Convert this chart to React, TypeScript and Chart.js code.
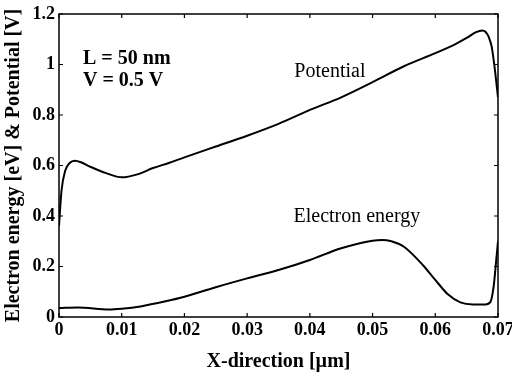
import React, { useEffect, useRef } from "react";
import { Chart, registerables } from "chart.js";

Chart.register(...registerables);

const potentialX = [0, 0.0004, 0.001, 0.0017, 0.0025, 0.0035, 0.005, 0.0075, 0.01, 0.0125, 0.015, 0.0175, 0.02, 0.025, 0.03, 0.035, 0.04, 0.045, 0.05, 0.055, 0.06, 0.063, 0.065, 0.0665, 0.0675, 0.068, 0.0685, 0.069, 0.0695, 0.07];
const potentialY = [0.36, 0.5, 0.58, 0.61, 0.619, 0.613, 0.595, 0.57, 0.553, 0.565, 0.59, 0.61, 0.632, 0.675, 0.718, 0.765, 0.82, 0.87, 0.93, 0.993, 1.045, 1.078, 1.105, 1.128, 1.135, 1.13, 1.11, 1.07, 0.98, 0.87];

const energyX = [0, 0.003, 0.008, 0.01, 0.013, 0.017, 0.02, 0.025, 0.03, 0.035, 0.04, 0.045, 0.05, 0.0515, 0.053, 0.055, 0.058, 0.06, 0.062, 0.064, 0.066, 0.068, 0.0688, 0.0693, 0.0697, 0.07];
const energyY = [0.036, 0.038, 0.03, 0.033, 0.042, 0.062, 0.08, 0.118, 0.153, 0.186, 0.226, 0.272, 0.302, 0.305, 0.3, 0.278, 0.206, 0.147, 0.09, 0.058, 0.05, 0.05, 0.06, 0.12, 0.22, 0.3];

const xTicks = [0, 0.01, 0.02, 0.03, 0.04, 0.05, 0.06, 0.07];
const yTicks = [0, 0.2, 0.4, 0.6, 0.8, 1, 1.2];

const annotations = [
  { text: "L = 50 nm", x: 0.00383, y: 1.022, bold: true, align: "left" },
  { text: "V = 0.5 V", x: 0.00383, y: 0.935, bold: true, align: "left" },
  { text: "Potential", x: 0.0432, y: 0.97, bold: false, align: "center" },
  { text: "Electron energy", x: 0.0475, y: 0.396, bold: false, align: "center" },
];

const SERIF = "'Liberation Serif', 'Times New Roman', serif";

const framePlugin = {
  id: "frameAndTicks",
  afterDraw(chart: any) {
    const { ctx, chartArea } = chart;
    const xs = chart.scales.x;
    const ys = chart.scales.y;
    ctx.save();
    ctx.strokeStyle = "#000";
    ctx.lineWidth = 1.5;
    ctx.strokeRect(chartArea.left, chartArea.top, chartArea.right - chartArea.left, chartArea.bottom - chartArea.top);
    const len = 4;
    ctx.lineWidth = 1.2;
    ctx.beginPath();
    xTicks.forEach((v) => {
      const px = xs.getPixelForValue(v);
      ctx.moveTo(px, chartArea.bottom);
      ctx.lineTo(px, chartArea.bottom - len);
      ctx.moveTo(px, chartArea.top);
      ctx.lineTo(px, chartArea.top + len);
    });
    yTicks.forEach((v) => {
      const py = ys.getPixelForValue(v);
      ctx.moveTo(chartArea.left, py);
      ctx.lineTo(chartArea.left + len, py);
      ctx.moveTo(chartArea.right, py);
      ctx.lineTo(chartArea.right - len, py);
    });
    ctx.stroke();
    ctx.fillStyle = "#000";
    ctx.textBaseline = "middle";
    annotations.forEach((a) => {
      ctx.font = `${a.bold ? "bold " : ""}20px ${SERIF}`;
      ctx.textAlign = a.align as CanvasTextAlign;
      ctx.fillText(a.text, xs.getPixelForValue(a.x), ys.getPixelForValue(a.y));
    });
    ctx.restore();
  },
};

const fmt = (v: any) => String(Number(Number(v).toFixed(3)));

export default function App() {
  const ref = useRef<HTMLCanvasElement | null>(null);
  useEffect(() => {
    if (!ref.current) return;
    const chart = new Chart(ref.current, {
      type: "line",
      data: {
        datasets: [
          {
            label: "Potential",
            data: potentialX.map((x, i) => ({ x, y: potentialY[i] })),
            borderColor: "#000",
            borderWidth: 2,
            pointRadius: 0,
            fill: false,
            cubicInterpolationMode: "monotone",
          },
          {
            label: "Electron energy",
            data: energyX.map((x, i) => ({ x, y: energyY[i] })),
            borderColor: "#000",
            borderWidth: 2,
            pointRadius: 0,
            fill: false,
            cubicInterpolationMode: "monotone",
          },
        ],
      },
      plugins: [framePlugin],
      options: {
        animation: false,
        responsive: false,
        maintainAspectRatio: false,
        layout: { padding: { left: 0, right: 14, top: 14, bottom: 0 } },
        plugins: { legend: { display: false }, tooltip: { enabled: false } },
        scales: {
          x: {
            type: "linear",
            min: 0,
            max: 0.07,
            afterBuildTicks: (s: any) => {
              s.ticks = xTicks.map((v) => ({ value: v }));
            },
            afterFit: (s: any) => {
              s.height = 57;
              s.paddingLeft = 0;
              s.paddingRight = 0;
            },
            grid: { display: false, drawTicks: false },
            border: { display: false },
            ticks: {
              color: "#000",
              font: { family: SERIF, size: 18, weight: "bold" },
              padding: 3,
              maxRotation: 0,
              autoSkip: false,
              callback: fmt,
            },
            title: {
              display: true,
              text: "X-direction [µm]",
              color: "#000",
              font: { family: SERIF, size: 20, weight: "bold" },
              padding: { top: 8, bottom: 0 },
            },
          },
          y: {
            type: "linear",
            min: 0,
            max: 1.2,
            afterBuildTicks: (s: any) => {
              s.ticks = yTicks.map((v) => ({ value: v }));
            },
            afterFit: (s: any) => {
              s.width = 59;
              s.paddingTop = 0;
              s.paddingBottom = 0;
            },
            grid: { display: false, drawTicks: false },
            border: { display: false },
            ticks: {
              color: "#000",
              font: { family: SERIF, size: 18, weight: "bold" },
              padding: 4,
              autoSkip: false,
              callback: fmt,
            },
            title: {
              display: true,
              text: "Electron energy [eV] & Potential [V]",
              color: "#000",
              font: { family: SERIF, size: 20, weight: "bold" },
              padding: { top: 2, bottom: 0 },
            },
          },
        },
      },
    } as any);
    return () => chart.destroy();
  }, []);
  return (
    <div style={{ position: "absolute", left: 0, top: 0, width: 512, height: 374, background: "#fff" }}>
      <canvas ref={ref} width={512} height={374} style={{ width: 512, height: 374 }} />
    </div>
  );
}
